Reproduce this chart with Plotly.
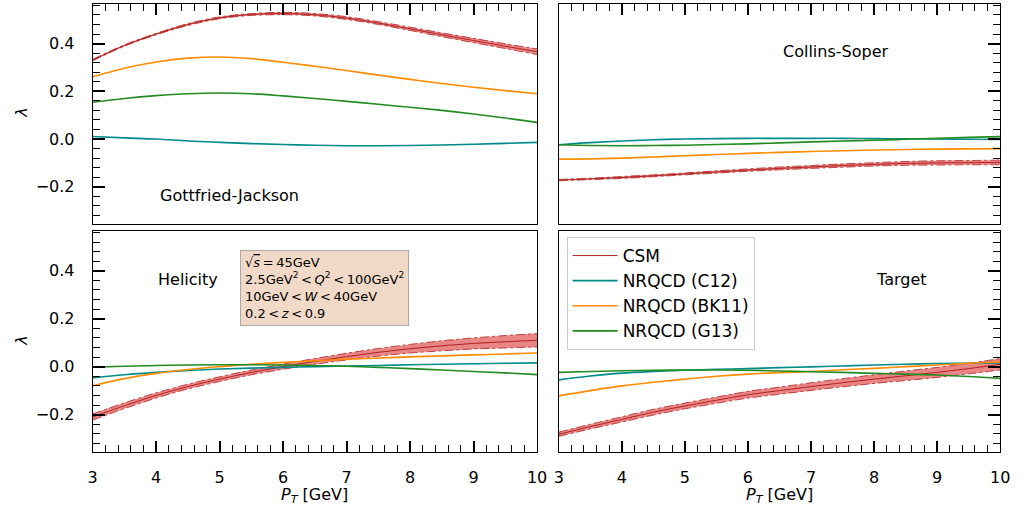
import plotly.graph_objects as go

# ---------------- data ----------------
pt = [3.0, 3.5, 4.0, 4.5, 5.0, 5.5, 6.0, 6.5, 7.0, 7.5, 8.0, 8.5, 9.0, 9.5, 10.0]

# Gottfried-Jackson frame
gj_csm = [0.331, 0.392, 0.440, 0.480, 0.508, 0.522, 0.526, 0.521, 0.507, 0.486, 0.462, 0.437, 0.413, 0.389, 0.366]
gj_csm_hw = [0.003, 0.003, 0.003, 0.004, 0.004, 0.004, 0.005, 0.005, 0.006, 0.006, 0.007, 0.008, 0.009, 0.010, 0.012]
gj_c12 = [0.011, 0.005, 0.000, -0.008, -0.014, -0.019, -0.023, -0.026, -0.028, -0.028, -0.027, -0.025, -0.022, -0.018, -0.014]
gj_bk11 = [0.261, 0.297, 0.323, 0.339, 0.344, 0.337, 0.322, 0.305, 0.287, 0.268, 0.250, 0.233, 0.217, 0.203, 0.190]
gj_g13 = [0.154, 0.170, 0.182, 0.190, 0.193, 0.190, 0.181, 0.170, 0.158, 0.146, 0.133, 0.120, 0.105, 0.088, 0.070]

# Collins-Soper frame
cs_csm = [-0.172, -0.167, -0.161, -0.154, -0.146, -0.138, -0.130, -0.123, -0.117, -0.111, -0.106, -0.102, -0.100, -0.099, -0.098]
cs_csm_hw = [0.003, 0.003, 0.004, 0.004, 0.004, 0.005, 0.005, 0.006, 0.006, 0.007, 0.007, 0.008, 0.009, 0.009, 0.010]
cs_c12 = [-0.024, -0.015, -0.008, -0.003, 0.000, 0.002, 0.003, 0.003, 0.003, 0.003, 0.002, 0.001, 0.000, -0.001, -0.002]
cs_bk11 = [-0.084, -0.083, -0.080, -0.075, -0.070, -0.065, -0.060, -0.056, -0.052, -0.049, -0.046, -0.044, -0.042, -0.041, -0.040]
cs_g13 = [-0.024, -0.027, -0.028, -0.027, -0.026, -0.023, -0.020, -0.016, -0.012, -0.008, -0.005, -0.001, 0.003, 0.007, 0.010]

# Helicity frame
he_csm = [-0.210, -0.163, -0.120, -0.083, -0.052, -0.024, 0.000, 0.022, 0.042, 0.060, 0.075, 0.087, 0.097, 0.104, 0.110]
he_csm_hw = [0.013, 0.012, 0.011, 0.010, 0.010, 0.010, 0.011, 0.012, 0.014, 0.016, 0.018, 0.021, 0.023, 0.026, 0.028]
he_c12 = [-0.047, -0.034, -0.024, -0.016, -0.010, -0.006, -0.003, 0.000, 0.003, 0.005, 0.008, 0.010, 0.012, 0.014, 0.016]
he_bk11 = [-0.080, -0.050, -0.028, -0.012, 0.000, 0.010, 0.018, 0.025, 0.031, 0.036, 0.041, 0.045, 0.049, 0.053, 0.057]
he_g13 = [-0.002, 0.002, 0.005, 0.007, 0.008, 0.008, 0.007, 0.005, 0.002, -0.003, -0.008, -0.014, -0.020, -0.026, -0.033]

# Target frame
ta_csm = [-0.282, -0.250, -0.220, -0.190, -0.164, -0.140, -0.117, -0.100, -0.083, -0.067, -0.052, -0.038, -0.024, -0.008, 0.010]
ta_csm_hw = [0.009, 0.010, 0.011, 0.012, 0.012, 0.013, 0.014, 0.015, 0.016, 0.017, 0.018, 0.020, 0.021, 0.022, 0.024]
ta_c12 = [-0.055, -0.039, -0.027, -0.020, -0.015, -0.011, -0.008, -0.004, -0.001, 0.003, 0.007, 0.010, 0.013, 0.014, 0.015]
ta_bk11 = [-0.122, -0.100, -0.080, -0.065, -0.052, -0.040, -0.031, -0.025, -0.020, -0.013, -0.007, 0.000, 0.007, 0.014, 0.020]
ta_g13 = [-0.024, -0.020, -0.017, -0.015, -0.014, -0.014, -0.015, -0.018, -0.021, -0.024, -0.028, -0.031, -0.035, -0.041, -0.049]

frame_names = ["Gottfried-Jackson", "Collins-Soper", "Helicity", "Target"]
series_names = ["CSM", "NRQCD (C12)", "NRQCD (BK11)", "NRQCD (G13)"]
x_ticks = [3, 4, 5, 6, 7, 8, 9, 10]
y_ticks = [-0.2, 0.0, 0.2, 0.4]
y_tick_text = ["\u22120.2", "0.0", "0.2", "0.4"]

# ---------------- styling ----------------
C_CSM = "#b22222"
C_BAND = "#e98585"
C_C12 = "#008b8b"
C_BK11 = "#ff8c00"
C_G13 = "#228b22"
FONT = "DejaVu Sans"

panels = [
    (gj_csm, gj_csm_hw, gj_c12, gj_bk11, gj_g13),
    (cs_csm, cs_csm_hw, cs_c12, cs_bk11, cs_g13),
    (he_csm, he_csm_hw, he_c12, he_bk11, he_g13),
    (ta_csm, ta_csm_hw, ta_c12, ta_bk11, ta_g13),
]

W, H = 1024, 512
def px(x):
    return x / W
def py(y):
    return 1 - y / H

xdom = [[px(89), px(540)], [px(562), px(1010)]]
ydom = [[py(224), py(4)], [py(452), py(231)]]
YR = [-0.356, 0.566]

fig = go.Figure()

for i, (csm, hw, c12, bk11, g13) in enumerate(panels):
    n = i + 1
    xa = "x" if n == 1 else f"x{n}"
    ya = "y" if n == 1 else f"y{n}"
    lo = [c - h for c, h in zip(csm, hw)]
    hi = [c + h for c, h in zip(csm, hw)]
    fig.add_trace(go.Scatter(x=pt, y=lo, mode="lines", xaxis=xa, yaxis=ya,
                             line=dict(color=C_CSM, width=0.8, dash="dashdot", shape="spline"),
                             showlegend=False, hoverinfo="skip"))
    fig.add_trace(go.Scatter(x=pt, y=hi, mode="lines", xaxis=xa, yaxis=ya, fill="tonexty",
                             fillcolor=C_BAND,
                             line=dict(color=C_CSM, width=0.8, dash="dashdot", shape="spline"),
                             showlegend=False, hoverinfo="skip"))
    fig.add_trace(go.Scatter(x=pt, y=csm, mode="lines", xaxis=xa, yaxis=ya, name=series_names[0],
                             line=dict(color=C_CSM, width=1.0, shape="spline"),
                             showlegend=(n == 4)))
    for vals, col, nm in ((c12, C_C12, series_names[1]), (bk11, C_BK11, series_names[2]),
                          (g13, C_G13, series_names[3])):
        fig.add_trace(go.Scatter(x=pt, y=vals, mode="lines", xaxis=xa, yaxis=ya, name=nm,
                                 line=dict(color=col, width=1.6, shape="spline"),
                                 showlegend=(n == 4)))

layout = dict(
    width=W, height=H, autosize=False,
    margin=dict(l=0, r=0, t=0, b=0),
    paper_bgcolor="white", plot_bgcolor="white",
    font=dict(family=FONT, size=16, color="black"),
    showlegend=True,
    legend=dict(x=px(570), y=py(237), xanchor="left", yanchor="top",
                traceorder="normal",
                bgcolor="rgba(255,255,255,0.8)", bordercolor="#cccccc", borderwidth=1,
                font=dict(family=FONT, size=17, color="black"),
                itemwidth=45, tracegroupgap=0),
)

for n in range(1, 5):
    col = (n - 1) % 2
    row = (n - 1) // 2
    xkey = "xaxis" if n == 1 else f"xaxis{n}"
    ykey = "yaxis" if n == 1 else f"yaxis{n}"
    ya = "y" if n == 1 else f"y{n}"
    xa = "x" if n == 1 else f"x{n}"
    top = row == 0
    left = col == 0
    layout[xkey] = dict(
        domain=xdom[col], anchor=ya, range=[3, 10], side="top" if top else "bottom",
        showline=True, linecolor="black", linewidth=1, mirror=True,
        showgrid=False, zeroline=False,
        ticks="inside", ticklen=11, tickwidth=2.2, tickcolor="black",
        tickvals=x_ticks, ticktext=[str(v) for v in x_ticks],
        showticklabels=not top, ticklabelstandoff=11,
        tickfont=dict(family=FONT, size=16, color="black"),
        minor=dict(dtick=0.2, tick0=3, ticks="inside", ticklen=7, tickwidth=1.3,
                   tickcolor="black", showgrid=False),
    )
    layout[ykey] = dict(
        domain=ydom[row], anchor=xa, range=YR, side="left" if left else "right",
        showline=True, linecolor="black", linewidth=1, mirror=True,
        showgrid=False, zeroline=False,
        ticks="inside", ticklen=12, tickwidth=2.2, tickcolor="black",
        tickvals=y_ticks, ticktext=y_tick_text,
        showticklabels=left, ticklabelstandoff=14,
        tickfont=dict(family=FONT, size=16, color="black"),
        minor=dict(dtick=0.04, tick0=0, ticks="inside", ticklen=7, tickwidth=1.3,
                   tickcolor="black", showgrid=False),
    )

annotations = []
label_pos = [(228, 195), (843, 51), (186, 279), (910, 279)]
for name, (lx, ly) in zip(frame_names, label_pos):
    annotations.append(dict(text=name, x=px(lx), y=py(ly), xref="paper", yref="paper",
                            showarrow=False, xanchor="center", yanchor="middle",
                            font=dict(family=FONT, size=16, color="black")))
for ly in (113, 341):
    annotations.append(dict(text="<i>\u03bb</i>", x=px(16), y=py(ly), xref="paper", yref="paper",
                            showarrow=False, textangle=-90, xanchor="center", yanchor="middle",
                            font=dict(family=FONT, size=16, color="black")))
for lx in (314, 786):
    annotations.append(dict(text="<i>P</i><sub><i>T</i></sub> [GeV]", x=px(lx), y=py(495),
                            xref="paper", yref="paper", showarrow=False,
                            xanchor="center", yanchor="middle",
                            font=dict(family=FONT, size=16, color="black")))
sp = "\u2009"
box_text = (f"\u221a<span style='text-decoration:overline'><i>s</i></span>{sp}={sp}45GeV<br>"
            f"2.5GeV<sup>2</sup>{sp}&lt;{sp}<i>Q</i><sup>2</sup>{sp}&lt;{sp}100GeV<sup>2</sup><br>"
            f"10GeV{sp}&lt;{sp}<i>W</i>{sp}&lt;{sp}40GeV<br>"
            f"0.2{sp}&lt;{sp}<i>z</i>{sp}&lt;{sp}0.9")
annotations.append(dict(text=box_text, x=px(238), y=py(250), xref="paper", yref="paper",
                        showarrow=False, xanchor="left", yanchor="top", align="left",
                        bgcolor="#f1d9c7", bordercolor="#aaaaaa", borderwidth=1, borderpad=4,
                        font=dict(family=FONT, size=13, color="black")))
layout["annotations"] = annotations

fig.update_layout(**layout)
fig.write_html("out.html")
